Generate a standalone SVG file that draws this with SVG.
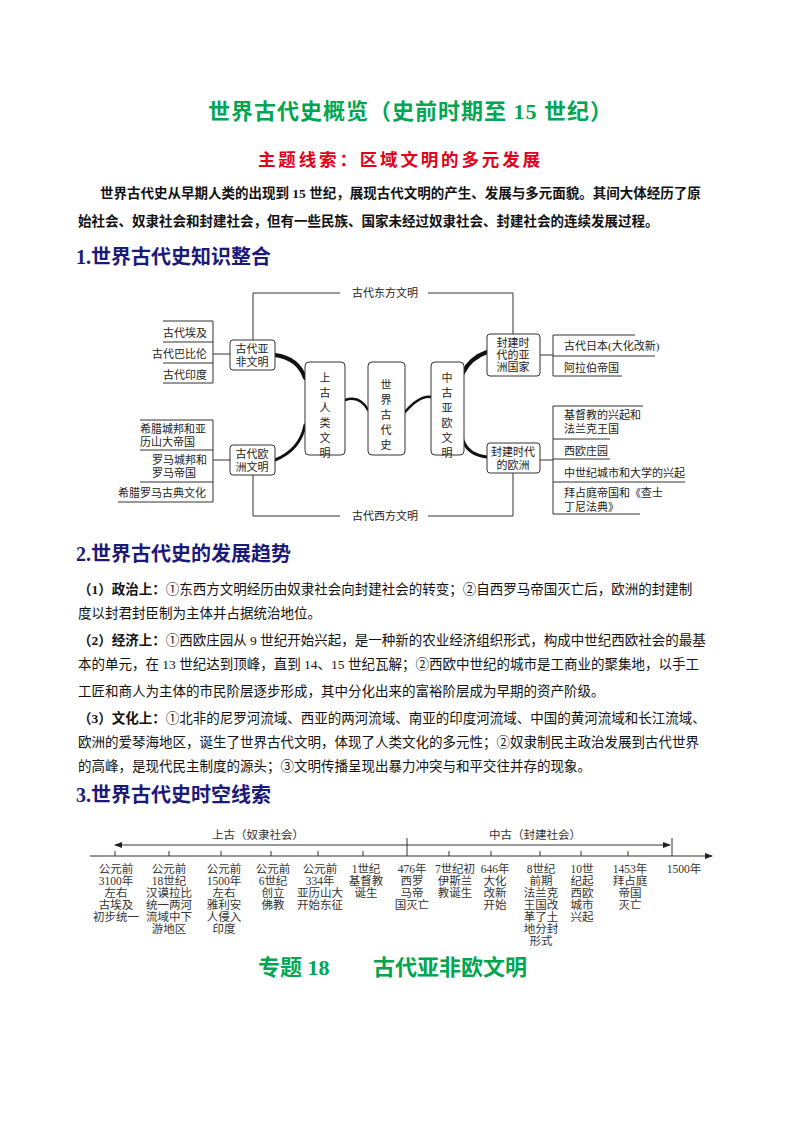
<svg xmlns="http://www.w3.org/2000/svg" width="800" height="1132" viewBox="0 0 800 1132">
<style>
.g{fill:#00a650;font-family:"Liberation Serif","Noto Sans CJK SC",serif;font-weight:bold}
.h{fill:#1c1a78;font-family:"Liberation Serif","Noto Sans CJK SC",serif;font-weight:bold;font-size:20px}
.p{font-family:"Liberation Serif","Noto Sans CJK SC",serif;font-size:13.5px;fill:#111}
.b{font-weight:bold}
.m{font-family:"Liberation Serif","Noto Sans CJK SC",serif;font-size:11px;fill:#222}
.t{font-family:"Liberation Serif","Noto Sans CJK SC",serif;font-size:11.5px;fill:#333;text-anchor:middle}
.box{fill:#fff;stroke:#333;stroke-width:1}
.ln{stroke:#333;stroke-width:1;fill:none}
.th{stroke:#111;fill:none;stroke-linecap:round}
</style>
<defs><marker id="ar" markerWidth="8" markerHeight="6" refX="7" refY="3" orient="auto"><path d="M0,0L8,3L0,6z" fill="#222"/></marker></defs>
<rect width="800" height="1132" fill="#fff"/>
<text class="g" x="208" y="119" font-size="22" textLength="404" lengthAdjust="spacing">世界古代史概览（史前时期至 15 世纪）</text>
<text x="258" y="166" font-size="17.5" textLength="282" lengthAdjust="spacing" fill="#e3001b" font-weight="bold" font-family="Liberation Serif,Noto Sans CJK SC,serif">主题线索：区域文明的多元发展</text>
<text class="p b" x="100" y="198">世界古代史从早期人类的出现到 15 世纪，展现古代文明的产生、发展与多元面貌。其间大体经历了原</text>
<text class="p b" x="78" y="226">始社会、奴隶社会和封建社会，但有一些民族、国家未经过奴隶社会、封建社会的连续发展过程。</text>
<text class="h" x="76" y="264">1.世界古代史知识整合</text>

<g id="connectors">
<path class="ln" d="M253,340V293H340M428,293H513V335"/>
<path class="ln" d="M253,475V516H340M428,516H513V473"/>
<path class="ln" d="M163,321H213V383H163M163,342H213M163,363H213M213,354H230"/>
<path class="ln" d="M140,420H213V502H118M140,450H213M140,482H213M213,460H230"/>
<path class="ln" d="M635,335H553V376H622M553,356H655M540,355H553"/>
<path class="ln" d="M643,406H553V514H640M553,439H610M553,459H610M553,482H685M540,460H553"/>
<path class="th" stroke-width="4" d="M275,355Q298,358 305,378"/>
<path class="th" stroke-width="3" d="M275,460Q300,450 305,425"/>
<path class="th" stroke-width="2.5" d="M345,400Q360,395 368,410"/>
<path class="th" stroke-width="2.5" d="M405,412Q420,395 431,397"/>
<path class="th" stroke-width="4" d="M463,373Q470,358 487,352"/>
<path class="th" stroke-width="3" d="M463,440Q468,455 487,457"/>
</g>
<text class="m" x="385" y="297" text-anchor="middle">古代东方文明</text>
<text class="m" x="385" y="520" text-anchor="middle">古代西方文明</text>

<g id="asiaafrica"><rect class="box" x="230" y="340" width="45" height="30" rx="3"/><text class="m" x="252" y="353" text-anchor="middle">古代亚</text><text class="m" x="252" y="366" text-anchor="middle">非文明</text></g>
<g id="europe"><rect class="box" x="230" y="445" width="45" height="30" rx="3"/><text class="m" x="252" y="458" text-anchor="middle">古代欧</text><text class="m" x="252" y="471" text-anchor="middle">洲文明</text></g>
<g id="shanggu"><rect class="box" x="305" y="362" width="40" height="93" rx="4"/><text class="m" x="325" y="382" text-anchor="middle">上</text><text class="m" x="325" y="397" text-anchor="middle">古</text><text class="m" x="325" y="412" text-anchor="middle">人</text><text class="m" x="325" y="427" text-anchor="middle">类</text><text class="m" x="325" y="442" text-anchor="middle">文</text><text class="m" x="325" y="457" text-anchor="middle">明</text></g>
<g id="world"><rect class="box" x="368" y="362" width="37" height="93" rx="4"/><text class="m" x="386" y="389" text-anchor="middle">世</text><text class="m" x="386" y="404" text-anchor="middle">界</text><text class="m" x="386" y="419" text-anchor="middle">古</text><text class="m" x="386" y="434" text-anchor="middle">代</text><text class="m" x="386" y="449" text-anchor="middle">史</text></g>
<g id="zhonggu"><rect class="box" x="431" y="362" width="33" height="93" rx="4"/><text class="m" x="447" y="382" text-anchor="middle">中</text><text class="m" x="447" y="397" text-anchor="middle">古</text><text class="m" x="447" y="412" text-anchor="middle">亚</text><text class="m" x="447" y="427" text-anchor="middle">欧</text><text class="m" x="447" y="442" text-anchor="middle">文</text><text class="m" x="447" y="457" text-anchor="middle">明</text></g>
<g id="asiafeudal"><rect class="box" x="487" y="334" width="53" height="42" rx="3"/><text class="m" x="513" y="347" text-anchor="middle">封建时</text><text class="m" x="513" y="359" text-anchor="middle">代的亚</text><text class="m" x="513" y="371" text-anchor="middle">洲国家</text></g>
<g id="eufeudal"><rect class="box" x="487" y="443" width="53" height="30" rx="3"/><text class="m" x="513" y="456" text-anchor="middle">封建时代</text><text class="m" x="513" y="469" text-anchor="middle">的欧洲</text></g>

<g id="leftitems">
<text class="m" x="207" y="337" text-anchor="end">古代埃及</text>
<text class="m" x="207" y="358" text-anchor="end">古代巴比伦</text>
<text class="m" x="207" y="379" text-anchor="end">古代印度</text>
<text class="m" x="140" y="433">希腊城邦和亚</text><text class="m" x="140" y="446">历山大帝国</text>
<text class="m" x="152" y="464">罗马城邦和</text><text class="m" x="152" y="477">罗马帝国</text>
<text class="m" x="118" y="497">希腊罗马古典文化</text>
</g>
<g id="rightitems">
<text class="m" x="564" y="350">古代日本(大化改新)</text>
<text class="m" x="564" y="372">阿拉伯帝国</text>
<text class="m" x="564" y="419">基督教的兴起和</text><text class="m" x="564" y="433">法兰克王国</text>
<text class="m" x="564" y="455">西欧庄园</text>
<text class="m" x="564" y="477">中世纪城市和大学的兴起</text>
<text class="m" x="564" y="497">拜占庭帝国和《查士</text><text class="m" x="564" y="511">丁尼法典》</text>
</g>

<text class="h" x="76" y="561">2.世界古代史的发展趋势</text>
<g class="p">
<text x="78" y="594"><tspan class="b">（1）政治上：</tspan>①东西方文明经历由奴隶社会向封建社会的转变；②自西罗马帝国灭亡后，欧洲的封建制</text>
<text x="78" y="618">度以封君封臣制为主体并占据统治地位。</text>
<text x="78" y="645"><tspan class="b">（2）经济上：</tspan>①西欧庄园从 9 世纪开始兴起，是一种新的农业经济组织形式，构成中世纪西欧社会的最基</text>
<text x="78" y="669">本的单元，在 13 世纪达到顶峰，直到 14、15 世纪瓦解；②西欧中世纪的城市是工商业的聚集地，以手工</text>
<text x="78" y="696">工匠和商人为主体的市民阶层逐步形成，其中分化出来的富裕阶层成为早期的资产阶级。</text>
<text x="78" y="723"><tspan class="b">（3）文化上：</tspan>①北非的尼罗河流域、西亚的两河流域、南亚的印度河流域、中国的黄河流域和长江流域、</text>
<text x="78" y="747">欧洲的爱琴海地区，诞生了世界古代文明，体现了人类文化的多元性；②奴隶制民主政治发展到古代世界</text>
<text x="78" y="771">的高峰，是现代民主制度的源头；③文明传播呈现出暴力冲突与和平交往并存的现象。</text>
</g>
<text class="h" x="76" y="802">3.世界古代史时空线索</text>

<g id="timeline">
<line class="ln" x1="90" y1="856" x2="712" y2="856" marker-end="url(#ar)"/>
<line class="ln" x1="407" y1="845" x2="115" y2="845" marker-end="url(#ar)"/>
<line class="ln" x1="407" y1="845" x2="670" y2="845" marker-end="url(#ar)"/>
<path class="ln" d="M407,838V856M672,838V856M115,851V856M169,851V856M221,851V856M271,851V856M318,851V856M363,851V856M449,851V856M491,851V856M540,851V856M581,851V856M628,851V856"/>
</g>
<text class="t" x="258" y="839" font-size="12">上古（奴隶社会）</text>
<text class="t" x="535" y="839" font-size="12">中古（封建社会）</text>
<g class="t">
<text x="116" y="873">公元前<tspan x="116" dy="12">3100年</tspan><tspan x="116" dy="12">左右</tspan><tspan x="116" dy="12">古埃及</tspan><tspan x="116" dy="12">初步统一</tspan></text>
<text x="169" y="873">公元前<tspan x="169" dy="12">18世纪</tspan><tspan x="169" dy="12">汉谟拉比</tspan><tspan x="169" dy="12">统一两河</tspan><tspan x="169" dy="12">流域中下</tspan><tspan x="169" dy="12">游地区</tspan></text>
<text x="224" y="873">公元前<tspan x="224" dy="12">1500年</tspan><tspan x="224" dy="12">左右</tspan><tspan x="224" dy="12">雅利安</tspan><tspan x="224" dy="12">人侵入</tspan><tspan x="224" dy="12">印度</tspan></text>
<text x="273" y="873">公元前<tspan x="273" dy="12">6世纪</tspan><tspan x="273" dy="12">创立</tspan><tspan x="273" dy="12">佛教</tspan></text>
<text x="320" y="873">公元前<tspan x="320" dy="12">334年</tspan><tspan x="320" dy="12">亚历山大</tspan><tspan x="320" dy="12">开始东征</tspan></text>
<text x="366" y="873">1世纪<tspan x="366" dy="12">基督教</tspan><tspan x="366" dy="12">诞生</tspan></text>
<text x="412" y="873">476年<tspan x="412" dy="12">西罗</tspan><tspan x="412" dy="12">马帝</tspan><tspan x="412" dy="12">国灭亡</tspan></text>
<text x="455" y="873">7世纪初<tspan x="455" dy="12">伊斯兰</tspan><tspan x="455" dy="12">教诞生</tspan></text>
<text x="495" y="873">646年<tspan x="495" dy="12">大化</tspan><tspan x="495" dy="12">改新</tspan><tspan x="495" dy="12">开始</tspan></text>
<text x="541" y="873">8世纪<tspan x="541" dy="12">前期</tspan><tspan x="541" dy="12">法兰克</tspan><tspan x="541" dy="12">王国改</tspan><tspan x="541" dy="12">革了土</tspan><tspan x="541" dy="12">地分封</tspan><tspan x="541" dy="12">形式</tspan></text>
<text x="582" y="873">10世<tspan x="582" dy="12">纪起</tspan><tspan x="582" dy="12">西欧</tspan><tspan x="582" dy="12">城市</tspan><tspan x="582" dy="12">兴起</tspan></text>
<text x="630" y="873">1453年<tspan x="630" dy="12">拜占庭</tspan><tspan x="630" dy="12">帝国</tspan><tspan x="630" dy="12">灭亡</tspan></text>
<text x="684" y="873">1500年</text>
</g>
<text class="g" x="258" y="975" font-size="22">专题 18<tspan x="373">古代亚非欧文明</tspan></text>
</svg>
